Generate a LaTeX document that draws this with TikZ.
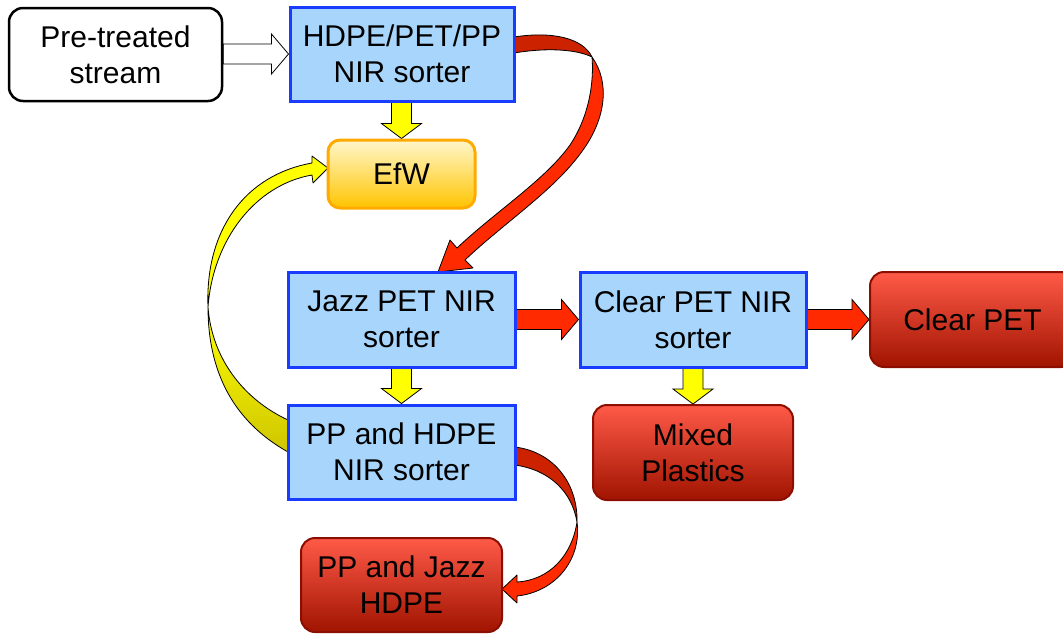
\documentclass[tikz,border=0pt]{standalone}
\usepackage{fontspec}
\setmainfont{Liberation Sans}
\usetikzlibrary{calc,backgrounds}
\definecolor{bluebd}{HTML}{1A3CFF}
\definecolor{bluefill}{HTML}{A8D5FC}
\definecolor{redtop}{HTML}{FF5A48}
\definecolor{redbot}{HTML}{A01400}
\definecolor{redbd}{HTML}{8C0E00}
\definecolor{efwtop}{HTML}{FFF7CC}
\definecolor{efwbot}{HTML}{FFC400}
\definecolor{efwbd}{HTML}{FFAA00}
\definecolor{arrred}{HTML}{FF2A00}
\definecolor{arrdark}{HTML}{CC2200}
\definecolor{arryel}{HTML}{FFFF00}
\definecolor{arrolive}{HTML}{CFC600}
\newcommand\hblk[3]{\draw[#3] ($(#1.east |- #2.west)+(0,-10)$) -- ($(#2.west)+(-17,-10)$) -- ++(0,-10) -- (#2.west) -- ++(-17,20) -- ++(0,-10) -- ($(#1.east |- #2.west)+(0,10)$) -- cycle;}
\newcommand\vblk[3]{\draw[#3] ($(#1.south -| #2.north)+(-10,0)$) -- ($(#2.north)+(-10,-15)$) -- ++(-10,0) -- (#2.north) -- ++(20,-15) -- ++(-10,0) -- ($(#1.south -| #2.north)+(10,0)$) -- cycle;}
\begin{document}
\begin{tikzpicture}[x=1pt,y=-1pt,
  font=\fontsize{30}{36}\selectfont,
  sorter/.style={draw=bluebd, line width=3pt, fill=bluefill, align=center, inner sep=0pt},
  product/.style={draw=redbd, line width=2pt, top color=redtop, bottom color=redbot, rounded corners=14pt, align=center, inner sep=0pt},
  inbox/.style={draw=black, line width=2.5pt, fill=white, rounded corners=14pt, align=center, inner sep=0pt},
  efwbox/.style={draw=efwbd, line width=3pt, top color=efwtop, bottom color=efwbot, rounded corners=12pt, align=center, inner sep=0pt},
  hollow/.style={draw=black, line width=0.8pt, fill=white},
  yblk/.style={draw=black, line width=0.8pt, fill=arryel},
  rblk/.style={draw=black, line width=0.8pt, fill=arrred},
  ribbon/.style={draw=black, line width=0.8pt, line join=round}]
\useasboundingbox (0,0) rectangle (1063,633);

\node[inbox, minimum width=213pt, minimum height=93pt] (pre) at (115.5,54.5) {Pre-treated\\stream};
\node[sorter, minimum width=224pt, minimum height=94pt] (hdpe) at (402,54) {HDPE/PET/PP\\NIR sorter};
\node[efwbox, minimum width=147pt, minimum height=68pt] (efw) at (401.5,174) {EfW};
\node[sorter, minimum width=227pt, minimum height=95pt] (jazz) at (401.5,319.5) {Jazz PET NIR\\sorter};
\node[sorter, minimum width=226pt, minimum height=95pt] (clear) at (693,319.5) {Clear PET NIR\\sorter};
\node[product, minimum width=205pt, minimum height=95pt] (cpet) at (972.5,319.5) {Clear PET};
\node[sorter, minimum width=227pt, minimum height=94pt] (pphdpe) at (401.5,452) {PP and HDPE\\NIR sorter};
\node[product, minimum width=200pt, minimum height=95pt] (mixed) at (693,452.5) {Mixed\\Plastics};
\node[product, minimum width=201pt, minimum height=94pt] (ppjazz) at (401.5,585) {PP and Jazz\\HDPE};

\begin{scope}[on background layer]
  % straight block arrows
  \hblk{pre}{hdpe}{hollow}
  \vblk{hdpe}{efw}{yblk}
  \vblk{jazz}{pphdpe}{yblk}
  \vblk{clear}{mixed}{yblk}
  \hblk{jazz}{clear}{rblk}
  \hblk{clear}{cpet}{rblk}

  % big red ribbon: HDPE/PET/PP -> Jazz
  \coordinate (r1s) at (hdpe.east);
  \path[ribbon, fill=arrdark] (514,37) .. controls (552,31) and (583,38) .. (592,57)
        .. controls (578,50) and (550,47) .. (514,53) -- cycle;
  \path[ribbon, fill=arrred] (592,57) .. controls (610,82) and (606,118) .. (583,150)
        .. controls (555,190) and (505,222) .. (465,260)
        -- (473,268) -- (438,272) -- (450,240) -- (457,248)
        .. controls (495,212) and (545,180) .. (570,145)
        .. controls (590,115) and (594,80) .. (592,57) -- cycle;

  % red ribbon: PP and HDPE -> PP and Jazz HDPE
  \path[ribbon, fill=arrdark] (515,447) .. controls (555,452) and (578,485) .. (577,522)
        .. controls (572,492) and (550,470) .. (515,465) -- cycle;
  \path[ribbon, fill=arrred] (577,522) .. controls (582,560) and (555,592) .. (517,596)
        -- (517,603) -- (502,589) -- (517,575) -- (517,582)
        .. controls (550,580) and (572,555) .. (577,522) -- cycle;

  % yellow ribbon: PP and HDPE -> EfW
  \path[ribbon, top color=arryel, bottom color=arrolive] (208,307) .. controls (208,380) and (240,425) .. (288,452)
        -- (288,420) .. controls (245,400) and (212,360) .. (208,307) -- cycle;
  \path[ribbon, fill=arryel] (312,163) -- (312,156) -- (328,168) -- (313,183) -- (312,175)
        .. controls (255,185) and (213,240) .. (208,307)
        .. controls (205,230) and (245,175) .. (312,163) -- cycle;
\end{scope}
\end{tikzpicture}
\end{document}
